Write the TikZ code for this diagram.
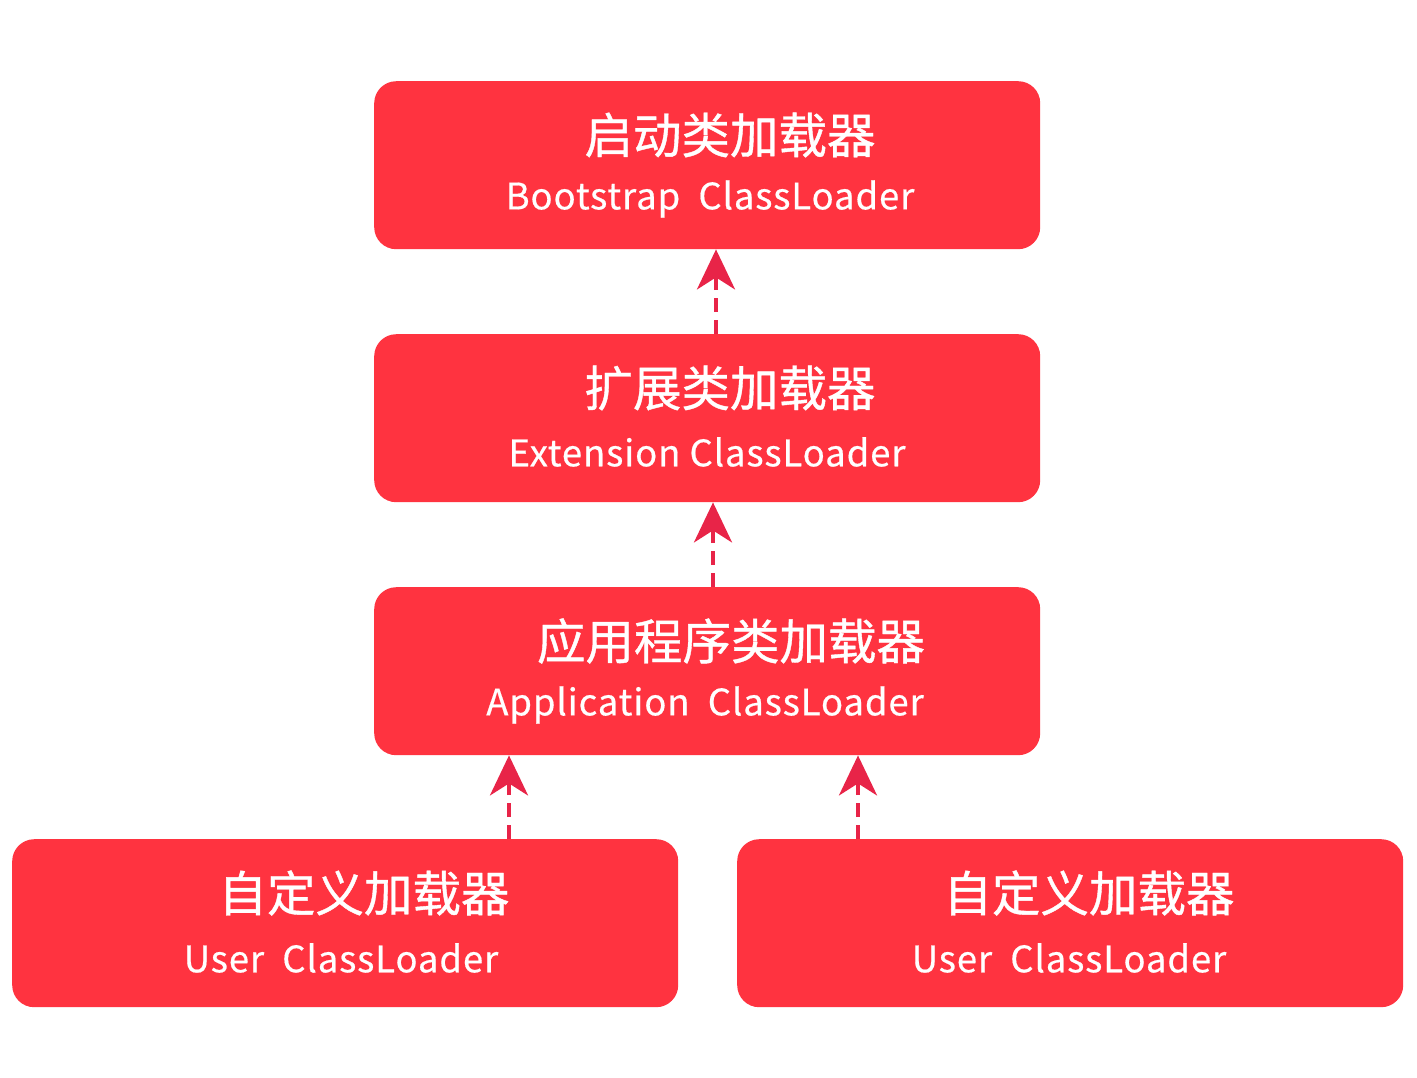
\documentclass[tikz,border=0pt]{standalone}
\usepackage{fontspec}
\setmainfont{Noto Sans CJK SC}
\newfontfamily\cjkfont{Noto Sans CJK SC}[FakeBold=0.8]
\newfontfamily\latinfont{Noto Sans CJK SC}[LetterSpace=2.5,FakeBold=0.5]
\usetikzlibrary{arrows.meta}
\definecolor{boxred}{RGB}{255,51,64}
\definecolor{arrred}{RGB}{232,36,72}
\begin{document}
\begin{tikzpicture}[x=1pt,y=-1pt,
  loader/.style={fill=boxred, rounded corners=22pt, minimum width=666pt, minimum height=168pt, anchor=north west, inner sep=0pt},
  cn/.style={text=white, font=\cjkfont\fontsize{48.5}{52}\selectfont, inner sep=0pt},
  en/.style={text=white, font=\latinfont\fontsize{36.5}{42}\selectfont, inner sep=0pt},
  inherit/.style={draw=arrred, line width=4pt, dash pattern=on 14pt off 8pt, -{Stealth[length=40pt,width=38pt,inset=12pt]}}]
\useasboundingbox (0,0) rectangle (1417,1077);
\node[loader] (boot) at (374,81) {};
\node[loader] (ext) at (374,334) {};
\node[loader] (app) at (374,587) {};
\node[loader] (user1) at (12,839) {};
\node[loader] (user2) at (737,839) {};
\node[cn] (bootcn) at (730,135) {启动类加载器};
\node[en] (booten) at (710,199) {Bootstrap\ \ ClassLoader};
\node[cn] (extcn) at (730,388) {扩展类加载器};
\node[en] (exten) at (707,452) {Extension ClassLoader};
\node[cn] (appcn) at (731,641) {应用程序类加载器};
\node[en] (appen) at (705,705) {Application\ \ ClassLoader};
\node[cn] (u1cn) at (364,893) {自定义加载器};
\node[en] (u1en) at (341,958) {User\ \ ClassLoader};
\node[cn] (u2cn) at (1089,893) {自定义加载器};
\node[en] (u2en) at (1069,958) {User\ \ ClassLoader};
\coordinate (a1) at (716,0);
\coordinate (a2) at (713,0);
\coordinate (a3) at (509,0);
\coordinate (a4) at (858,0);
\draw[inherit] (ext.north -| a1) -- (boot.south -| a1);
\draw[inherit] (app.north -| a2) -- (ext.south -| a2);
\draw[inherit] (user1.north -| a3) -- (app.south -| a3);
\draw[inherit] (user2.north -| a4) -- (app.south -| a4);
\end{tikzpicture}
\end{document}
